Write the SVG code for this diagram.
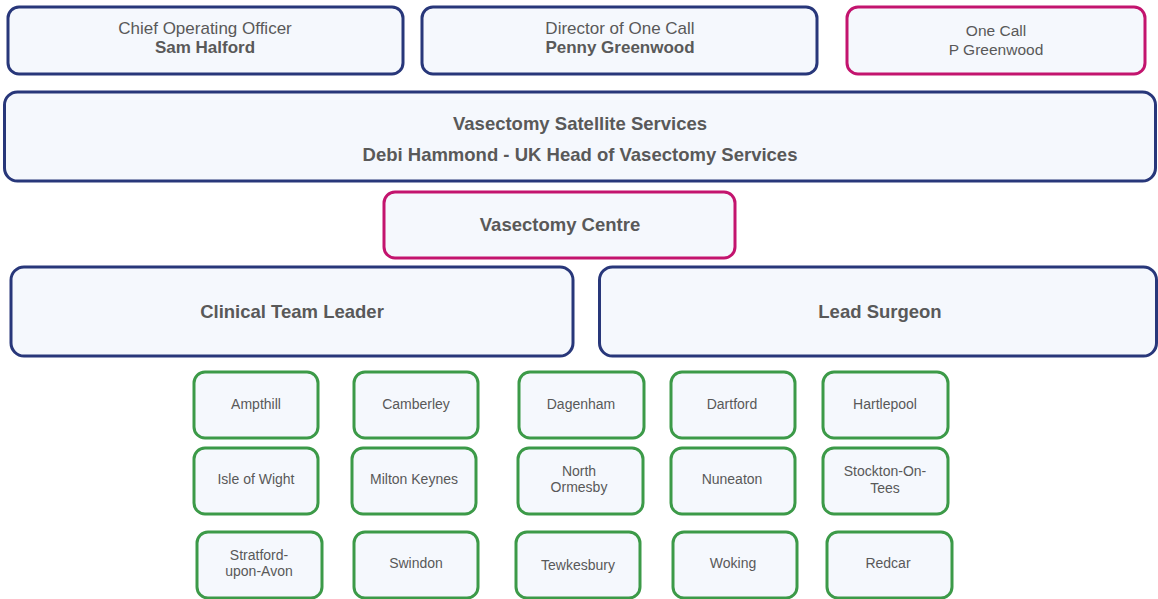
<svg xmlns="http://www.w3.org/2000/svg" width="1158" height="599" viewBox="0 0 1158 599">
<style>
rect{fill:#f5f8fd;stroke-width:3}
.navy{stroke:#28377a}
.pink{stroke:#c3146e}
.green{stroke:#3c9a48}
text{font-family:"Liberation Sans",Arial,sans-serif;fill:#595959;text-anchor:middle}
.t17{font-size:17px}
.b17{font-size:17px;font-weight:bold}
.t15{font-size:15.5px}
.b18{font-size:18.5px;font-weight:bold}
.s14{font-size:14px}
</style>
<rect width="1158" height="599" style="fill:#ffffff;stroke:none"/>
<g id="connectors"/>
<g id="coo"><rect class="navy" x="8" y="7" width="395" height="67" rx="11"/><text class="t17" x="205" y="33.5">Chief Operating Officer</text><text class="b17" x="205" y="53">Sam Halford</text></g>
<g id="director"><rect class="navy" x="422" y="7" width="395" height="67" rx="11"/><text class="t17" x="620" y="33.5">Director of One Call</text><text class="b17" x="620" y="53">Penny Greenwood</text></g>
<g id="onecall"><rect class="pink" x="847" y="7" width="298" height="67" rx="11"/><text class="t15" x="996" y="36">One Call</text><text class="t15" x="996" y="55">P Greenwood</text></g>
<g id="satellite"><rect class="navy" x="4.5" y="92" width="1151" height="89" rx="13"/><text class="b18" x="580" y="129.5">Vasectomy Satellite Services</text><text class="b18" x="580" y="161">Debi Hammond - UK Head of Vasectomy Services</text></g>
<g id="centre"><rect class="pink" x="384" y="192" width="351" height="66" rx="11"/><text class="b18" x="560" y="230.5">Vasectomy Centre</text></g>
<g id="clinical"><rect class="navy" x="11" y="267" width="562" height="89" rx="13"/><text class="b18" x="292" y="317.5">Clinical Team Leader</text></g>
<g id="surgeon"><rect class="navy" x="599.5" y="267" width="557" height="89" rx="13"/><text class="b18" x="880" y="317.5">Lead Surgeon</text></g>
<g id="ampthill"><rect class="green" x="194" y="372" width="124" height="66" rx="11"/><text class="s14" x="256" y="409">Ampthill</text></g>
<g id="camberley"><rect class="green" x="354" y="372" width="124" height="66" rx="11"/><text class="s14" x="416" y="409">Camberley</text></g>
<g id="dagenham"><rect class="green" x="519" y="372" width="125" height="66" rx="11"/><text class="s14" x="581" y="409">Dagenham</text></g>
<g id="dartford"><rect class="green" x="671" y="372" width="124" height="66" rx="11"/><text class="s14" x="732" y="409">Dartford</text></g>
<g id="hartlepool"><rect class="green" x="823" y="372" width="125" height="66" rx="11"/><text class="s14" x="885" y="409">Hartlepool</text></g>
<g id="isleofwight"><rect class="green" x="194" y="448" width="124" height="66" rx="11"/><text class="s14" x="256" y="484">Isle of Wight</text></g>
<g id="miltonkeynes"><rect class="green" x="352" y="448" width="124" height="66" rx="11"/><text class="s14" x="414" y="484">Milton Keynes</text></g>
<g id="northormesby"><rect class="green" x="518" y="448" width="125" height="66" rx="11"/><text class="s14" x="579" y="476">North</text><text class="s14" x="579" y="492">Ormesby</text></g>
<g id="nuneaton"><rect class="green" x="671" y="448" width="124" height="66" rx="11"/><text class="s14" x="732" y="484">Nuneaton</text></g>
<g id="stockton"><rect class="green" x="823" y="448" width="125" height="66" rx="11"/><text class="s14" x="885" y="476">Stockton-On-</text><text class="s14" x="885" y="492.5">Tees</text></g>
<g id="stratford"><rect class="green" x="197" y="532" width="125" height="66" rx="11"/><text class="s14" x="259" y="560">Stratford-</text><text class="s14" x="259" y="576">upon-Avon</text></g>
<g id="swindon"><rect class="green" x="354" y="532" width="124" height="66" rx="11"/><text class="s14" x="416" y="568">Swindon</text></g>
<g id="tewkesbury"><rect class="green" x="516" y="532" width="124" height="66" rx="11"/><text class="s14" x="578" y="570">Tewkesbury</text></g>
<g id="woking"><rect class="green" x="673" y="532" width="124" height="66" rx="11"/><text class="s14" x="733" y="568">Woking</text></g>
<g id="redcar"><rect class="green" x="827" y="532" width="125" height="66" rx="11"/><text class="s14" x="888" y="568">Redcar</text></g>
</svg>
